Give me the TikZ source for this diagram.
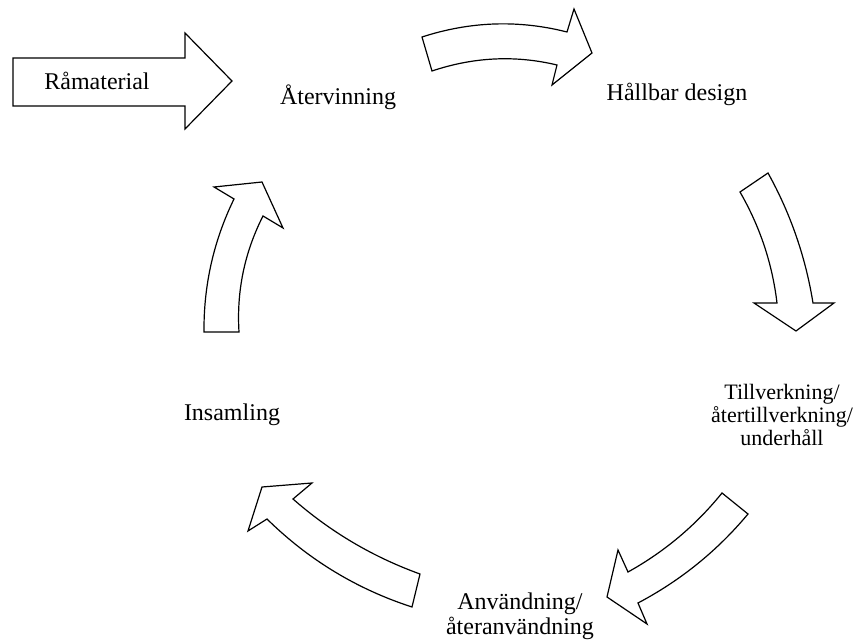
\documentclass[tikz,border=0pt]{standalone}
\usepackage{fontspec}
\setmainfont{Liberation Serif}
\newcommand\stagefont[2]{\fontsize{#1}{#2}\selectfont\lineskiplimit=-20pt}

\begin{document}
\begin{tikzpicture}[x=0.5pt,y=-0.5pt]
  \tikzset{blockarrow/.style={draw,line width=0.6pt,fill=white,line join=miter},
    stagetext/.style={font=\stagefont{12}{12.5},align=center,inner sep=0pt}}
  \useasboundingbox (0,0) rectangle (859,642);

  % straight input arrow
  \draw[blockarrow] (13,58) -- (185,58) -- (185,33) -- (232,81)
    -- (185,129) -- (185,106) -- (13,106) -- cycle;

  % curved arrows around the cycle
  \draw[blockarrow] (432,71) -- (422,37)
    .. controls (470.3,21.3) and (518.7,19.7) .. (567,32)
    -- (574,9) -- (592,53) -- (552,85) -- (557,65)
    .. controls (515.3,55) and (473.7,57) .. (432,71) -- cycle;
  \draw[blockarrow] (740,192) -- (768,173)
    .. controls (790.6,213.7) and (805.6,257.1) .. (813,303)
    -- (834,303) -- (796,331) -- (754,303) -- (777,303)
    .. controls (772.3,263.5) and (759.9,226.5) .. (740,192) -- cycle;
  \draw[blockarrow] (748,514) -- (722,493)
    .. controls (695.8,525.4) and (664.4,551.8) .. (628,572)
    -- (618,550) -- (607,597) -- (647,624) -- (638,603)
    .. controls (680.6,580.5) and (717.2,550.9) .. (748,514) -- cycle;
  \draw[blockarrow] (420,574) -- (412,607)
    .. controls (356.8,589.1) and (308.4,559.7) .. (267,519)
    -- (248,531) -- (262,487) -- (312,483) -- (293,499)
    .. controls (330.6,532) and (373,557) .. (420,574) -- cycle;
  \draw[blockarrow] (239,332) -- (204,332)
    .. controls (203.6,285.3) and (213.6,240.9) .. (234,199)
    -- (214,187) -- (262,182) -- (283,228) -- (263,216)
    .. controls (244.5,252.5) and (236.5,291.1) .. (239,332) -- cycle;

  % stage labels
  \node[stagetext] (raw) at (97,81) {Råmaterial};
  \node[stagetext] (recycling) at (338,97) {Återvinning};
  \node[stagetext] (design) at (677,94) {Hållbar design};
  \node[stagetext,font=\stagefont{11}{11.5}] (manufacturing) at (782,415)
    {Tillverkning/\\återtillverkning/\\underhåll};
  \node[stagetext] (use) at (520,616) {Användning/\\återanvändning};
  \node[stagetext] (collection) at (232,415) {Insamling};
\end{tikzpicture}
\end{document}
